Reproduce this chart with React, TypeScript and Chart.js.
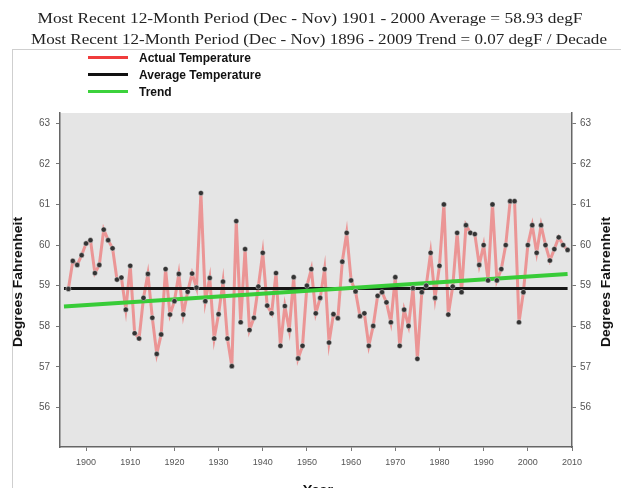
import React, { useEffect, useLayoutEffect, useRef, useState } from "react";
import { Chart, registerables } from "chart.js";
Chart.register(...registerables);

// ---------------- data ----------------
const START_YEAR = 1896;
const TEMPS = [
  58.92, 59.61, 59.51, 59.75, 60.04, 60.12, 59.31, 59.51, 60.38, 60.12,
  59.92, 59.15, 59.2, 58.41, 59.49, 57.83, 57.7, 58.7, 59.29, 58.21,
  57.32, 57.8, 59.41, 58.29, 58.62, 59.29, 58.29, 58.85, 59.3, 58.95,
  61.28, 58.62, 59.19, 57.7, 58.3, 59.1, 57.7, 57.02, 60.59, 58.1,
  59.9, 57.91, 58.21, 58.98, 59.81, 58.51, 58.32, 59.31, 57.52, 58.5,
  57.91, 59.21, 57.21, 57.52, 59.0, 59.41, 58.32, 58.7, 59.41, 57.6,
  58.3, 58.2, 59.59, 60.3, 59.13, 58.86, 58.25, 58.32, 57.52, 58.01,
  58.75, 58.84, 58.59, 58.1, 59.21, 57.52, 58.41, 58.01, 58.94, 57.2,
  58.84, 59.0, 59.81, 58.7, 59.49, 61.0, 58.29, 58.98, 60.3, 58.84,
  60.49, 60.3, 60.27, 59.51, 60.0, 59.13, 61.0, 59.13, 59.41, 60.0,
  61.08, 61.08, 58.1, 58.84, 60.0, 60.49, 59.81, 60.49, 60.0, 59.62,
  59.9, 60.19, 60.0, 59.88,
];
const AVG_YEARS = [1895, 2009];
const AVG_VALUES = [58.93, 58.93];
const TREND_YEARS = [1895, 2009];
const TREND_VALUES = [58.49, 59.29];
const X_TICKS = [1900, 1910, 1920, 1930, 1940, 1950, 1960, 1970, 1980, 1990, 2000, 2010];
const Y_TICKS = [56, 57, 58, 59, 60, 61, 62, 63];
const X_MIN = 1894.1;
const X_MAX = 2010;
const Y_MIN = 55.03;
const Y_MAX = 63.25;

const TITLE_1 = "Most Recent 12-Month Period (Dec - Nov) 1901 - 2000 Average = 58.93 degF";
const TITLE_2 = "Most Recent 12-Month Period (Dec - Nov) 1896 - 2009 Trend = 0.07 degF / Decade";
const LEGEND_LABELS = ["Actual Temperature", "Average Temperature", "Trend"];
const Y_TITLE = "Degrees Fahrenheit";
const X_TITLE = "Year";

// ---------------- styles ----------------
const RED_LINE = "rgba(238,95,95,0.6)";
const LEGEND_COLORS = ["#f03c3c", "#111111", "#3cd23c"];
const SANS = "'Liberation Sans', Arial, sans-serif";
const SERIF = "'Liberation Serif', 'Times New Roman', serif";

function FitText(props: { text: string; cx: number; cy: number; width: number; rotate?: number; style?: any }) {
  const ref = useRef<HTMLSpanElement>(null);
  const [sx, setSx] = useState(1);
  useLayoutEffect(() => {
    if (ref.current) {
      const w = ref.current.offsetWidth;
      if (w) setSx(props.width / w);
    }
  }, [props.text, props.width]);
  return (
    <span
      ref={ref}
      style={{
        position: "absolute",
        left: props.cx,
        top: props.cy,
        whiteSpace: "nowrap",
        lineHeight: 1,
        transform: `translate(-50%,-50%) rotate(${props.rotate || 0}deg) scaleX(${sx})`,
        transformOrigin: "center",
        ...props.style,
      }}
    >
      {props.text}
    </span>
  );
}

const panelBg = {
  id: "panelBg",
  beforeDraw(chart: any) {
    const { ctx, chartArea } = chart;
    if (!chartArea) return;
    ctx.save();
    ctx.fillStyle = "#e5e5e5";
    ctx.fillRect(chartArea.left, chartArea.top, chartArea.right - chartArea.left, chartArea.bottom - chartArea.top);
    ctx.restore();
  },
};

export default function App() {
  const canvasRef = useRef<HTMLCanvasElement>(null);

  useEffect(() => {
    if (!canvasRef.current) return;
    const series = TEMPS.map((v, i) => ({ x: START_YEAR + i, y: v }));
    const avg = AVG_YEARS.map((x, i) => ({ x, y: AVG_VALUES[i] }));
    const trend = TREND_YEARS.map((x, i) => ({ x, y: TREND_VALUES[i] }));
    const tickFont = { family: SANS, size: 9 };
    const yAxisBase = (pos: "left" | "right") => ({
      type: "linear" as const,
      position: pos,
      min: Y_MIN,
      max: Y_MAX,
      afterBuildTicks: (ax: any) => {
        ax.ticks = Y_TICKS.map((v) => ({ value: v }));
      },
      afterFit: (s: any) => {
        s.width = 40;
      },
      ticks: {
        font: { family: SANS, size: 10 },
        color: "#555",
        padding: pos === "left" ? 6 : 4,
        callback: (v: any) => String(v),
      },
      grid: { drawOnChartArea: false, drawTicks: true, tickLength: 4, tickColor: "#777" },
      border: { display: true, color: "#666", width: 1.5 },
    });

    const chart = new Chart(canvasRef.current, {
      type: "line",
      data: {
        datasets: [
          {
            label: LEGEND_LABELS[0],
            data: series,
            borderColor: RED_LINE,
            borderWidth: 3,
            pointRadius: 0,
            order: 4,
          },
          {
            label: LEGEND_LABELS[1],
            data: avg,
            borderColor: "#151515",
            borderWidth: 3,
            pointRadius: 0,
            order: 3,
          },
          {
            label: LEGEND_LABELS[2],
            data: trend,
            borderColor: "#38cc38",
            borderWidth: 4,
            pointRadius: 0,
            order: 2,
          },
          {
            label: "points",
            data: series,
            showLine: false,
            pointRadius: 2.6,
            pointBackgroundColor: "#333",
            pointBorderColor: "rgba(255,255,255,0.5)",
            pointBorderWidth: 0.8,
            order: 1,
          },
        ],
      },
      options: {
        animation: false,
        responsive: false,
        maintainAspectRatio: false,
        layout: { padding: { left: 20, right: 9, top: 113, bottom: 11 } },
        plugins: {
          legend: { display: false },
          tooltip: { enabled: false },
          title: { display: false },
        },
        scales: {
          x: {
            type: "linear",
            min: X_MIN,
            max: X_MAX,
            afterBuildTicks: (ax: any) => {
              ax.ticks = X_TICKS.map((v) => ({ value: v }));
            },
            afterFit: (s: any) => {
              s.height = 30;
            },
            ticks: {
              font: tickFont,
              color: "#555",
              padding: 6,
              maxRotation: 0,
              autoSkip: false,
              callback: (v: any) => String(v),
            },
            grid: { drawOnChartArea: false, drawTicks: true, tickLength: 4, tickColor: "#777" },
            border: { display: true, color: "#666", width: 1.5 },
          },
          y: yAxisBase("left"),
          y2: yAxisBase("right"),
        },
      } as any,
      plugins: [panelBg],
    });
    return () => chart.destroy();
  }, []);

  return (
    <div
      style={{
        position: "absolute",
        left: 0,
        top: 0,
        width: 621,
        height: 488,
        overflow: "hidden",
        background: "#fff",
      }}
    >
      <div
        style={{
          position: "absolute",
          left: 12,
          top: 49,
          width: 620,
          height: 460,
          borderLeft: "1px solid #cfcfcf",
          borderTop: "1px solid #cfcfcf",
        }}
      />
      <canvas ref={canvasRef} width={621} height={488} style={{ position: "absolute", left: 0, top: 0 }} />
      <FitText text={TITLE_1} cx={310} cy={19} width={545} style={{ fontFamily: SERIF, fontSize: 14, color: "#222" }} />
      <FitText text={TITLE_2} cx={319} cy={40} width={576} style={{ fontFamily: SERIF, fontSize: 14, color: "#222" }} />
      {LEGEND_LABELS.map((lab, i) => (
        <React.Fragment key={lab}>
          <div
            style={{
              position: "absolute",
              left: 88,
              top: 56 + i * 17,
              width: 40,
              height: 3,
              background: LEGEND_COLORS[i],
            }}
          />
          <span
            style={{
              position: "absolute",
              left: 139,
              top: 51 + i * 17,
              fontFamily: SANS,
              fontWeight: "bold",
              fontSize: 12,
              lineHeight: "14px",
              color: "#111",
              whiteSpace: "nowrap",
            }}
          >
            {lab}
          </span>
        </React.Fragment>
      ))}
      <FitText
        text={Y_TITLE}
        cx={18}
        cy={282}
        width={130}
        rotate={-90}
        style={{ fontFamily: SANS, fontWeight: "bold", fontSize: 12, color: "#111" }}
      />
      <FitText
        text={Y_TITLE}
        cx={606}
        cy={282}
        width={130}
        rotate={-90}
        style={{ fontFamily: SANS, fontWeight: "bold", fontSize: 12, color: "#111" }}
      />
      <FitText
        text={X_TITLE}
        cx={318}
        cy={490}
        width={30}
        style={{ fontFamily: SANS, fontWeight: "bold", fontSize: 12, color: "#111" }}
      />
    </div>
  );
}
